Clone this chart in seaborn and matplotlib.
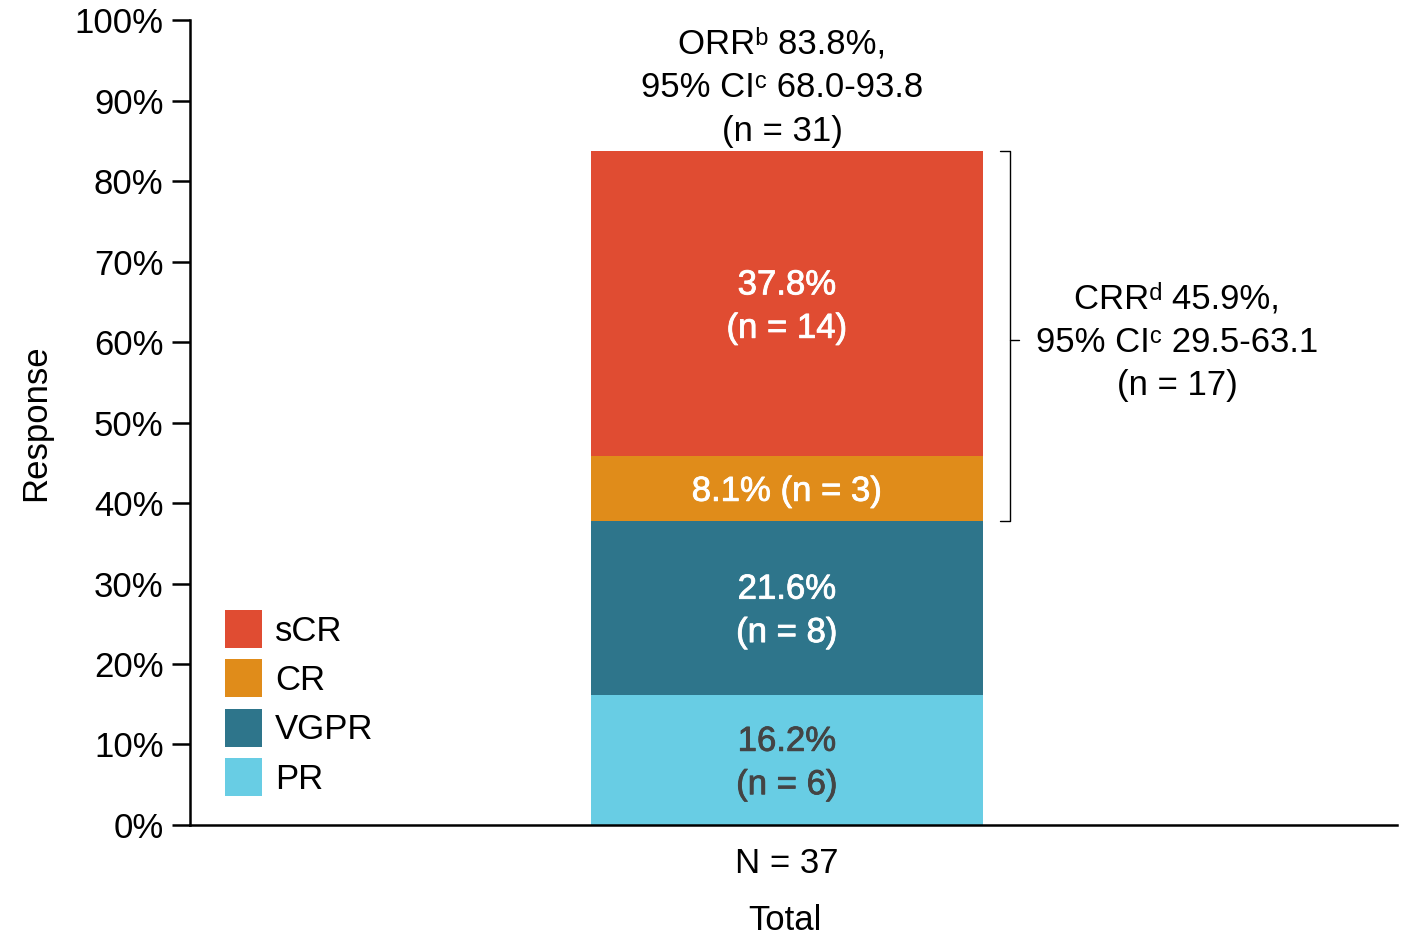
import numpy as np
import pandas as pd
import matplotlib
matplotlib.use("Agg")
import matplotlib.pyplot as plt
import matplotlib.transforms as mtransforms
import matplotlib.patheffects as pe
from matplotlib.patches import Patch
import seaborn as sns

# ---- data ----
categories = ["PR", "VGPR", "CR", "sCR"]
percents = [16.2, 21.6, 8.1, 37.8]
counts = [6, 8, 3, 14]
colors = ["#68CDE4", "#2E758B", "#E08C1A", "#E04C32"]
label_colors = ["#444444", "white", "white", "white"]
group_label = "N = 37"

orr_text = "ORR\u1d47 83.8%,\n95% CI\u1d9c 68.0-93.8\n(n = 31)"
crr_text = "CRR\u1d48 45.9%,\n95% CI\u1d9c 29.5-63.1\n(n = 17)"

sns.set_style("white")
plt.rcParams["font.family"] = ["Liberation Sans", "DejaVu Sans"]
for k in ["text.color", "axes.labelcolor", "xtick.color", "ytick.color"]:
    plt.rcParams[k] = "black"

FS = 25

fig = plt.figure(figsize=(14.04, 9.36), dpi=100)
ax = fig.add_axes([0.1353, 0.1186, 0.995 - 0.1353, 0.9786 - 0.1186])

# stacked bar, one segment per response category
bottoms = np.concatenate([[0], np.cumsum(percents)[:-1]])
for cat, val, bot, col in zip(categories, percents, bottoms, colors):
    df = pd.DataFrame({"group": [group_label], "value": [val]})
    sns.barplot(data=df, x="group", y="value", color=col, bottom=bot,
                width=0.8, ax=ax, saturation=1, linewidth=0)

# segment labels
for cat, val, bot, n, tc in zip(categories, percents, bottoms, counts, label_colors):
    if cat == "CR":
        txt = f"{val:.1f}% (n = {n})"
    else:
        txt = f"{val:.1f}%\n(n = {n})"
    ax.text(0, bot + val / 2 - 0.4, txt, ha="center", va="center", color=tc,
            fontsize=FS, linespacing=1.4,
            path_effects=[pe.withStroke(linewidth=0.6, foreground=tc)])

top = bottoms[-1] + percents[-1]
ax.text(-0.01, 91.6, orr_text, ha="center", va="center", fontsize=FS,
        linespacing=1.4)

# CRR bracket
crr_lo = bottoms[2]
trans = mtransforms.blended_transform_factory(ax.transAxes, ax.transData)
xb = 0.679
ax.plot([xb - 0.008, xb, xb, xb - 0.008], [crr_lo, crr_lo, top, top],
        color="black", lw=1.0, transform=trans, clip_on=False)
ax.plot([xb, xb + 0.008], [60.2, 60.2], color="black", lw=1.0,
        transform=trans, clip_on=False)
ax.text(0.818, 60.0, crr_text, ha="center", va="center", fontsize=FS,
        linespacing=1.4, transform=trans)

ax.set_xlim(-1.218, 1.245)
ax.set_ylim(0, 100)
ax.set_yticks(np.arange(0, 101, 10))
ax.set_yticklabels([f"{v}%" for v in range(0, 101, 10)])
ax.tick_params(axis="y", length=13, width=1.8, labelsize=FS, pad=6, left=True)
ax.tick_params(axis="x", length=0, labelsize=FS, pad=16)
ax.set_ylabel("Response", fontsize=FS, labelpad=16)
ax.set_xlabel("Total", fontsize=FS, labelpad=17)
ax.xaxis.label.set_x(0.493)

for s in ["top", "right"]:
    ax.spines[s].set_visible(False)
for s in ["left", "bottom"]:
    ax.spines[s].set_linewidth(1.8)
    ax.spines[s].set_color("black")

handles = [Patch(facecolor=c, edgecolor="none") for c in colors[::-1]]
ax.legend(handles, categories[::-1], loc="upper left",
          bbox_to_anchor=(0.029, 0.267), frameon=False, fontsize=FS,
          handlelength=1.07, handleheight=1.3, labelspacing=0.33,
          handletextpad=0.38, borderpad=0, borderaxespad=0)

plt.savefig("out.png", dpi=100)
